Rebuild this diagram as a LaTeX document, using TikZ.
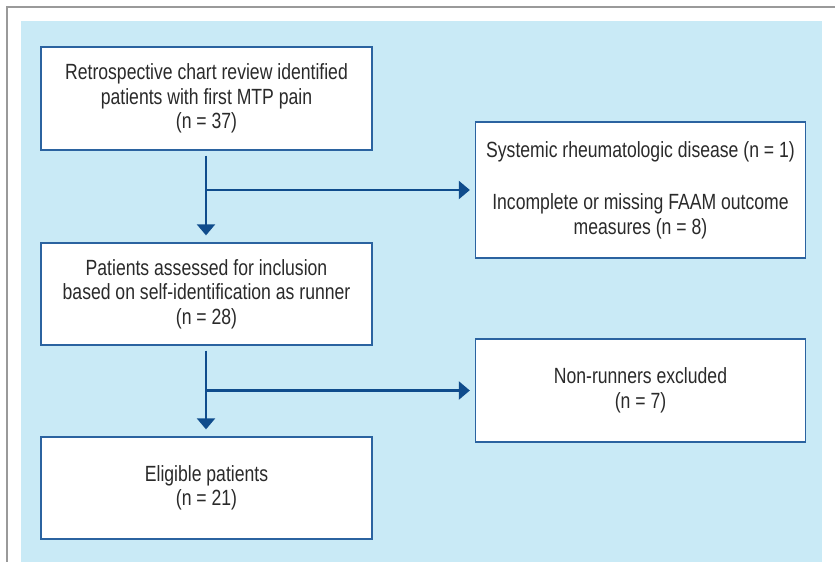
\documentclass[tikz,border=0pt]{standalone}
\usepackage{fontspec}
\usetikzlibrary{arrows.meta}
\newfontfamily\chartfont{Liberation Sans}[FakeStretch=0.8]
\definecolor{panelblue}{HTML}{C9EAF6}
\definecolor{edgeblue}{HTML}{2B63A0}
\definecolor{flowblue}{HTML}{0F4C8C}
\definecolor{textgray}{HTML}{2A2A2A}
\definecolor{framegray}{HTML}{9A9A9A}
\begin{document}
\begin{tikzpicture}[x=1pt, y=-1pt, font=\chartfont\fontsize{22}{24.5}\selectfont,
  box/.style={draw=edgeblue, line width=1.3pt, fill=white, text=textgray, align=center, inner sep=0pt},
  flow/.style={draw=flowblue, line width=2.2pt, -{Triangle[width=18pt,length=11pt]}}]
\useasboundingbox (0,0) rectangle (835,562);
\draw[framegray, line width=2pt] (6.5,562) -- (6.5,7) -- (835,7);
\fill[panelblue] (21,21) rectangle (822,562);
\node[box, minimum width=331pt, minimum height=103pt] (review) at (206.5,98.5)
  {Retrospective chart review identified\\ patients with first MTP pain\\ (n = 37)};
\node[box, minimum width=331pt, minimum height=102pt] (assess) at (206.5,294)
  {Patients assessed for inclusion\\ based on self-identification as runner\\ (n = 28)};
\node[box, minimum width=331pt, minimum height=102pt] (eligible) at (206.5,488)
  {Eligible patients\\ (n = 21)};
\node[box, minimum width=330pt, minimum height=136pt] (excluded) at (640.5,190)
  {Systemic rheumatologic disease (n = 1)\\[28pt] Incomplete or missing FAAM outcome\\ measures (n = 8)};
\node[box, minimum width=330pt, minimum height=103pt] (nonrun) at (640.5,390.5)
  {Non-runners excluded\\ (n = 7)};
\coordinate (split1) at (206,190);
\coordinate (split2) at (206,390.5);
\draw[flow, shorten <=5pt, shorten >=7pt] (review.south -| split1) -- (assess.north -| split1);
\draw[flow, shorten <=5pt, shorten >=7pt] (assess.south -| split2) -- (eligible.north -| split2);
\draw[flow, shorten >=5pt] (split1) -- (excluded.west);
\draw[flow, shorten >=5pt] (split2) -- (nonrun.west);
\end{tikzpicture}
\end{document}
